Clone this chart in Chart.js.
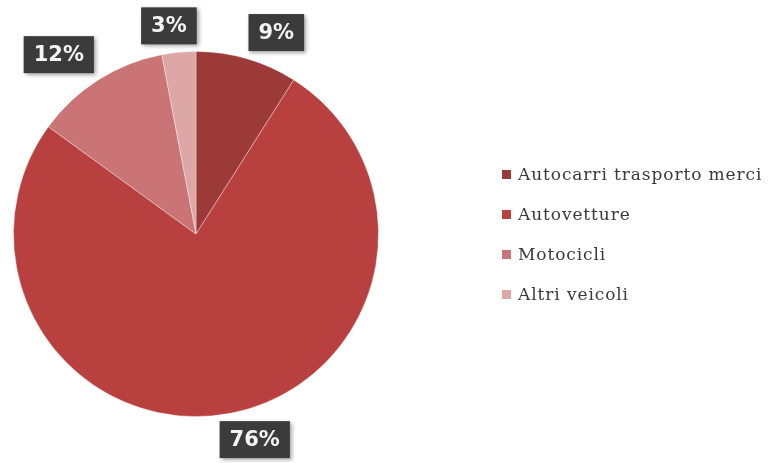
<!DOCTYPE html>
<html>
<head>
<meta charset="utf-8">
<script src="https://cdn.jsdelivr.net/npm/chart.js@4/dist/chart.umd.min.js"></script>
<style>
  html, body { margin: 0; padding: 0; background: #ffffff; }
  #wrap { position: relative; width: 768px; height: 463px; overflow: hidden; }
  #legend {
    position: absolute; left: 502px; top: 163px; margin: 0; padding: 0; list-style: none;
    font-family: "DejaVu Serif", "Liberation Serif", serif; font-size: 17px; color: #3a3a3a;
  }
  #legend li { height: 40px; line-height: 22px; white-space: nowrap; letter-spacing: 0.9px; }
  #legend span.box { display: inline-block; width: 9px; height: 9px; margin-right: 7px; vertical-align: 1px; }
</style>
</head>
<body>
<div id="wrap">
  <canvas id="pieChart" width="768" height="463"></canvas>
  <ul id="legend"></ul>
</div>
<script>
// dati
const categorie = ["Autocarri trasporto merci", "Autovetture", "Motocicli", "Altri veicoli"];
const percentuali = [9, 76, 12, 3];
const colori = ["#9c3a37", "#b8403f", "#cb7475", "#dda7a8"];

// etichette scure fuori dalla torta
const etichettePlugin = {
  id: "etichette",
  afterDatasetsDraw(chart) {
    const ctx = chart.ctx;
    const meta = chart.getDatasetMeta(0);
    ctx.save();
    ctx.font = "bold 21px 'DejaVu Sans', sans-serif";
    ctx.textAlign = "center";
    ctx.textBaseline = "middle";
    meta.data.forEach((arc, i) => {
      const p = arc.getProps(["x", "y", "startAngle", "endAngle", "outerRadius"], true);
      const mid = (p.startAngle + p.endAngle) / 2;
      const r = p.outerRadius + 8;
      const ax = p.x + Math.cos(mid) * r;
      const ay = p.y + Math.sin(mid) * r;
      const txt = percentuali[i] + "%";
      const w = ctx.measureText(txt).width + 20;
      const h = 37;
      const kx = Math.max(-1, Math.min(1, Math.cos(mid) * 3.5));
      const cx = ax + kx * w / 2;
      const cy = ay + Math.sign(Math.sin(mid)) * h / 2;
      ctx.shadowColor = "rgba(0,0,0,0.35)";
      ctx.shadowBlur = 4;
      ctx.shadowOffsetX = 2;
      ctx.shadowOffsetY = 2;
      ctx.fillStyle = "#3b3b3b";
      ctx.fillRect(cx - w / 2, cy - h / 2, w, h);
      ctx.shadowColor = "transparent";
      ctx.fillStyle = "#f4f4f4";
      ctx.fillText(txt, cx, cy + 1);
    });
    ctx.restore();
  }
};

new Chart(document.getElementById("pieChart"), {
  type: "pie",
  data: {
    labels: categorie,
    datasets: [{
      data: percentuali,
      backgroundColor: colori,
      borderColor: "rgba(255,255,255,0.35)",
      borderWidth: 1
    }]
  },
  options: {
    responsive: false,
    animation: false,
    layout: { padding: { left: 13, right: 389, top: 51, bottom: 46 } },
    plugins: {
      legend: { display: false },
      tooltip: { enabled: false }
    }
  },
  plugins: [etichettePlugin]
});

// legenda
const legend = document.getElementById("legend");
categorie.forEach((c, i) => {
  const li = document.createElement("li");
  li.innerHTML = '<span class="box" style="background:' + colori[i] + '"></span>' + c;
  legend.appendChild(li);
});
</script>
</body>
</html>
